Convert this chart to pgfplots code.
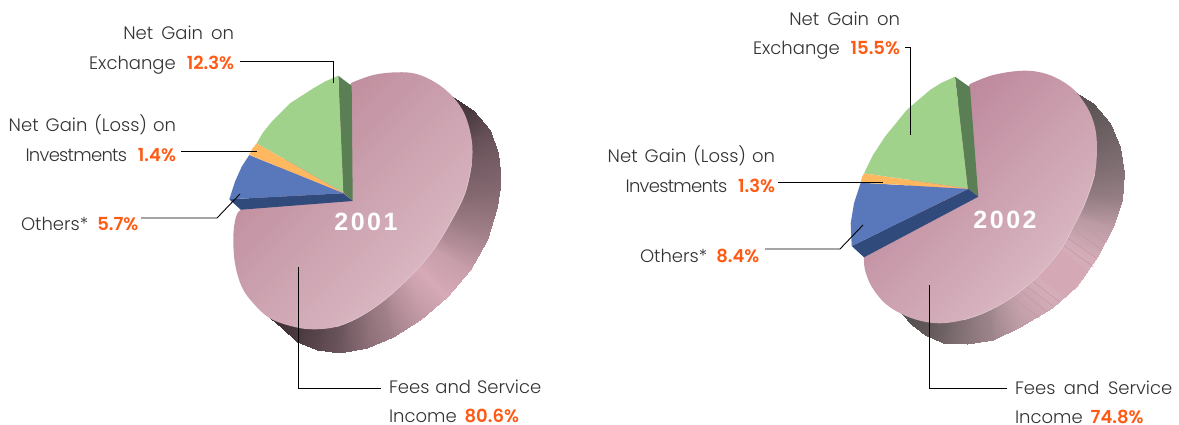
\documentclass[border=0pt]{standalone}
\usepackage{pgfplots}
\pgfplotsset{compat=1.18}
\usepackage{fontspec}
\setmainfont{Poppins}[UprightFont=* Light,BoldFont=* SemiBold]
\newfontfamily\yearf{Liberation Sans}[LetterSpace=10]
\definecolor{numc}{HTML}{FF5A14}
\definecolor{txtc}{HTML}{333333}
\definecolor{pdA}{HTML}{BC8798}
\definecolor{plA}{HTML}{DCBCC6}
\definecolor{pdB}{HTML}{B98196}
\definecolor{plB}{HTML}{DCBCC6}
\definecolor{rim}{HTML}{E3CDD4}
\definecolor{grn}{HTML}{A0D28B}
\definecolor{grs}{HTML}{5B7F55}
\definecolor{org}{HTML}{FFB85F}
\definecolor{blu}{HTML}{5878BB}
\definecolor{bls}{HTML}{304A7C}
\definecolor{flat}{HTML}{D4A8B5}
\definecolor{stripe}{HTML}{C596A5}
\tikzset{lab/.style={font=\fontsize{18}{20}\selectfont,text=txtc,inner sep=0pt,outer sep=0pt},
  yr/.style={text=white,font=\fontsize{25}{27}\selectfont\yearf\bfseries,inner sep=0pt}}
\newcommand{\num}[1]{\textbf{\textcolor{numc}{#1}}}
\newcommand{\inv}{{\addfontfeature{LetterSpace=-4}Investments}}
\pgfplotsset{leader/.style={black,line width=0.9pt,no marks,sharp plot},
  face/.style={draw=none,no marks,sharp plot},
  strp/.style={stripe,line width=0.5pt,no marks,sharp plot}}
\begin{document}
\begin{tikzpicture}
\path (0,0) rectangle (1179pt,425pt);
\begin{axis}[
  at={(0,0)},anchor=south west,
  scale only axis,width=1179pt,height=425pt,
  xmin=0,xmax=1179,ymin=0,ymax=425,y dir=reverse,
  axis lines=none,clip=false,
  point meta min=0,point meta max=1,
  colormap={sideA}{rgb255=(63,49,54) rgb255=(214,170,182)},
  colormap={sideB}{rgb255=(87,80,80) rgb255=(216,176,188)},
]
% ---------- 2001 ----------
\addplot[patch,patch type=rectangle,shader=interp,colormap name=sideA,point meta=explicit] table[meta=c]{
x y c
453.3 97.3 0.0
473.3 110 0.08
424.8 146 0.08
453.3 97.3 0.0
473.3 110 0.08
490 130 0.25
434.8 158 0.25
424.8 146 0.08
490 130 0.25
498.3 153.3 0.35
439.8 172 0.35
434.8 158 0.25
498.3 153.3 0.35
500.7 180 0.42
441.2 188 0.42
439.8 172 0.35
500.7 180 0.42
496.7 206.7 0.52
438.8 204 0.52
441.2 188 0.42
496.7 206.7 0.52
486.7 240 0.68
432.8 224 0.68
438.8 204 0.52
486.7 240 0.68
470 270 0.9
422.8 242 0.9
432.8 224 0.68
470 270 0.9
446.7 296.7 1.0
408.8 258 1.0
422.8 242 0.9
446.7 296.7 1.0
420 320 0.85
392.8 272 0.85
408.8 258 1.0
420 320 0.85
393.3 336.7 0.65
376.8 282 0.65
392.8 272 0.85
393.3 336.7 0.65
366.7 348.3 0.5
360.8 289 0.5
376.8 282 0.65
366.7 348.3 0.5
340 352.7 0.3
344.8 291.6 0.3
360.8 289 0.5
340 352.7 0.3
316.7 350 0.18
330.8 290 0.18
344.8 291.6 0.3
316.7 350 0.18
296.7 341.7 0.08
318.8 285 0.08
330.8 290 0.18
296.7 341.7 0.08
281.7 328.3 0.02
309.8 277 0.02
318.8 285 0.08
281.7 328.3 0.02
270 318.3 0
270 318.3 0
309.8 277 0.02
};
\addplot[no marks,draw=none,smooth,tension=0.6,shade,top color=pdA,bottom color=plA,shading angle=45] coordinates {
(351.7,82.7)(373.3,75)(396.7,72.3)(416.7,74)(436.7,83.3)(453.3,97.3)(465,115)(471.7,140)(471.7,163.3)(465,193.3)(450,223.3)(433.3,250)(413.3,273.3)(386.7,298.3)(360,316.7)(336.7,326.7)(313.3,329.3)(293.3,326.7)(270,318.3)(253.3,303.3)(241.7,286.7)(235,263.3)(233.3,236.7)(236,216.7)(240.7,209.7)
} --cycle;
\addplot[rim,line width=0.5pt,no marks,smooth,tension=0.6] coordinates {(471.7,163.3)(465,193.3)(450,223.3)(433.3,250)(413.3,273.3)(386.7,298.3)(360,316.7)(336.7,326.7)};
\addplot[face,fill=grs] coordinates {(338.3,75.7)(351.7,86)(352.7,201)(343.3,192.3)} --cycle;
\addplot[face,fill=bls] coordinates {(229.3,199.3)(240.7,209.7)(352.7,201)(343.3,193.3)} --cycle;
\addplot[face,fill=blu] coordinates {(249.3,155)(241.7,166.7)(235,181.7)(229.3,199.3)(343.3,193.3)} --cycle;
\addplot[face,fill=org] coordinates {(256.7,143.3)(252.7,148.3)(249.3,155)(343,192.8)} --cycle;
\addplot[face,fill=grn] coordinates {(338.3,75.7)(325,81.5)(313.3,88.3)(290,103.3)(271.7,121.7)(263,132.5)(256.7,143.3)(343.3,192.3)} --cycle;
\addplot[leader] coordinates {(240,61)(333,61)(333,83)};
\addplot[leader] coordinates {(181,151)(257,151)};
\addplot[leader] coordinates {(141,218)(217,218)(240,194)};
\addplot[leader] coordinates {(298.5,267)(298.5,388)(381,388)};
\node[anchor=base east,lab] at (axis cs:234,39.5) {Net\,\,\hspace{2pt}Gain\,\,\hspace{2pt}on};
\node[anchor=base east,lab] at (axis cs:234,69.5) {Exchange\,\, \num{12.3\%}};
\node[anchor=base east,lab] at (axis cs:176,131.5) {Net\,\,\hspace{1pt}Gain\,\,\hspace{1pt}(Loss)\,\,on};
\node[anchor=base east,lab] at (axis cs:176,161.5) {\inv\,\, \num{1.4\%}};
\node[anchor=base west,lab] at (axis cs:21,230.5) {Others*\,\hspace{1pt} \num{5.7\%}};
\node[anchor=base west,lab] at (axis cs:389,393.5) {Fees\,\,and\,\,Service};
\node[anchor=base west,lab] at (axis cs:389,422) {Income\, \num{80.6\%}};
\node[yr] at (axis cs:366,222) {2001};
% ---------- 2002 ----------
\addplot[patch,patch type=rectangle,shader=interp,colormap name=sideB,point meta=explicit] table[meta=c]{
x y c
1075 91.7 0
1093.3 103.3 0.05
1047 141 0.05
1075 91.7 0
1093.3 103.3 0.05
1110 123.3 0.15
1057 153 0.15
1047 141 0.05
1110 123.3 0.15
1120 146.7 0.25
1063 167 0.25
1057 153 0.15
1120 146.7 0.25
1124.3 173.3 0.35
1066 183 0.35
1063 167 0.25
1124.3 173.3 0.35
1121.7 200 0.5
1064 199 0.5
1066 183 0.35
1121.7 200 0.5
1113.3 226.7 0.78
1059 215 0.78
1064 199 0.5
1113.3 226.7 0.78
1096.7 256.7 0.95
1049 233 0.95
1059 215 0.78
1096.7 256.7 0.95
1077 286 1.0
1037 249 1.0
1049 233 0.95
1077 286 1.0
1052 308.5 0.95
1021 264 0.95
1037 249 1.0
1052 308.5 0.95
1020 327 0.8
1003 276 0.8
1021 264 0.95
1020 327 0.8
993.3 340 0.55
987 283 0.55
1003 276 0.8
993.3 340 0.55
966.7 344.3 0.38
971 285 0.38
987 283 0.55
966.7 344.3 0.38
943.3 342.7 0.2
957 284 0.2
971 285 0.38
943.3 342.7 0.2
925 335 0.08
946 280 0.08
957 284 0.2
925 335 0.08
911.7 325 0.02
938 274 0.02
946 280 0.08
911.7 325 0.02
901.7 314 0
901.7 314 0
938 274 0.02
};
\addplot[face,fill=flat] coordinates {(1061.7,250)(1088.3,271.7)(1065,298.3)(1038.3,276)} --cycle;
\addplot[strp] coordinates {(1080,221.7)(1105,242.7)};
\addplot[strp] coordinates {(1075,230)(1101.7,250)};
\addplot[strp] coordinates {(1068.3,238.3)(1096.7,258.3)};
\addplot[strp] coordinates {(1063.3,245)(1093.3,266.7)};
\addplot[strp] coordinates {(1033.3,281.7)(1059.3,301.7)};
\addplot[strp] coordinates {(1026,286)(1053,306)};
\addplot[strp] coordinates {(1020,290)(1046.7,311.7)};
\addplot[strp] coordinates {(1012.7,297.3)(1039.3,318.3)};
\addplot[no marks,draw=none,smooth,tension=0.6,shade,top color=pdB,bottom color=plB,shading angle=45] coordinates {
(970,84)(993.3,75)(1023.3,70.7)(1046.7,74)(1066.7,84)(1080,96.7)(1091.7,116.7)(1096.7,140)(1095,173.3)(1085,203.3)(1073.3,226.7)(1061,249)(1040,274)(1014,296)(986.7,311.7)(963.3,320)(940,323.3)(920,320.7)(901.7,314)(885,303.3)(871.7,286.7)(865,270)(864,257.3)
} --cycle;
\addplot[rim,line width=0.5pt,no marks,smooth,tension=0.6] coordinates {(1095,173.3)(1085,203.3)(1073.3,226.7)(1061,249)(1040,274)(1014,296)(986.7,311.7)(963.3,320)};
\addplot[face,fill=grs] coordinates {(955,76.7)(970,87.3)(978.3,196.7)(967.7,188.3)} --cycle;
\addplot[face,fill=bls] coordinates {(851.7,246)(864,257.3)(978.3,196.7)(968.3,189)} --cycle;
\addplot[face,fill=blu] coordinates {(860.7,182.7)(854,203.3)(850.7,223.3)(851.7,246)(967.7,189)} --cycle;
\addplot[face,fill=org] coordinates {(864,173.3)(862,177)(860.7,182.7)(967.7,188.6)} --cycle;
\addplot[face,fill=grn] coordinates {(955,76.7)(941,83)(930,90)(906.7,110)(885,136.7)(873,155)(864,173.3)(967.7,188.3)} --cycle;
\addplot[leader] coordinates {(905,47)(910,47)(910,135)};
\addplot[leader] coordinates {(778,182)(883,182)};
\addplot[leader] coordinates {(765,249)(840,249)(863,225)};
\addplot[leader] coordinates {(929.5,285)(929.5,388)(1007,388)};
\node[anchor=base east,lab] at (axis cs:900,25.5) {Net\,\,\hspace{2pt}Gain\,\,\hspace{2pt}on};
\node[anchor=base east,lab] at (axis cs:900,54.5) {Exchange\,\, \num{15.5\%}};
\node[anchor=base east,lab] at (axis cs:775,162.5) {Net\,\,\hspace{1pt}Gain\,\,\hspace{1pt}(Loss)\,\,on};
\node[anchor=base east,lab] at (axis cs:775,192.5) {\inv\,\, \num{1.3\%}};
\node[anchor=base west,lab] at (axis cs:640,262) {Others*\,\hspace{1pt} \num{8.4\%}};
\node[anchor=base west,lab] at (axis cs:1015,394.5) {Fees\,\,\hspace{2.5pt}and\,\,\hspace{2.5pt}Service};
\node[anchor=base west,lab] at (axis cs:1015,423) {Income\, \num{74.8\%}};
\node[yr] at (axis cs:1005,220) {2002};
\end{axis}
\end{tikzpicture}
\end{document}
